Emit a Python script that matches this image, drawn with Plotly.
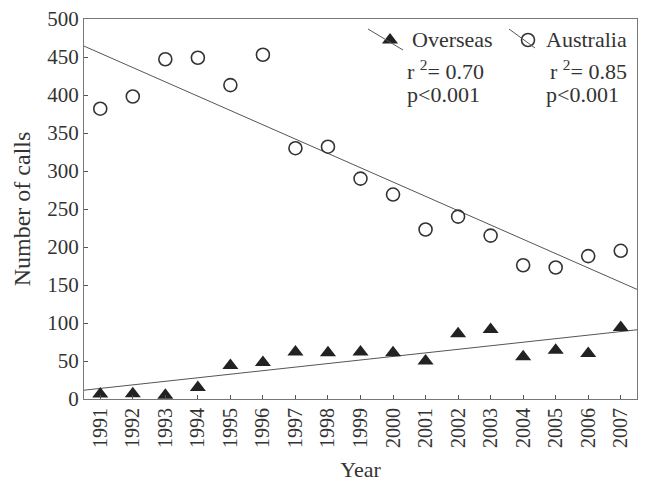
import numpy as np
import plotly.graph_objects as go

years = list(range(1991, 2008))
australia = [382, 398, 447, 449, 413, 453, 330, 332, 290, 269, 223, 240, 215, 176, 173, 188, 195]
overseas = [6.5, 7, 5, 15, 44, 48, 62, 61, 62, 61, 50, 86, 91.5, 55.5, 64, 60, 94]
ytick_vals = list(range(0, 501, 50))

x = np.array(years, dtype=float)
xr = np.array([1990.5, 2007.5])
ka, ba = np.polyfit(x, np.array(australia, dtype=float), 1)
ko, bo = np.polyfit(x, np.array(overseas, dtype=float), 1)

FONT = "Liberation Serif"
INK = "#333333"
LINE = "#555555"

fig = go.Figure()
fig.add_trace(go.Scatter(x=xr, y=ka * xr + ba, mode="lines",
                         line=dict(color=LINE, width=1), showlegend=False, cliponaxis=True))
fig.add_trace(go.Scatter(x=xr, y=ko * xr + bo, mode="lines",
                         line=dict(color=LINE, width=1), showlegend=False, cliponaxis=True))
fig.add_trace(go.Scatter(x=years, y=australia, mode="markers",
                         marker=dict(symbol="circle-open", size=13, color="#333333",
                                     line=dict(width=1.6, color="#333333")),
                         showlegend=False, cliponaxis=False))
fig.add_trace(go.Scatter(x=years, y=overseas, mode="markers",
                         marker=dict(symbol="triangle-up", size=14, color="#222222"),
                         showlegend=False, cliponaxis=False))

# legend glyphs on an overlay paper-like axis
L, R, T, B = 84, 637, 19, 399
def px(xp):
    return (xp - L) / (R - L)
def py(yp):
    return (B - yp) / (B - T)

fig.add_shape(type="line", xref="paper", yref="paper", x0=px(368), y0=py(29), x1=px(403), y1=py(50),
              line=dict(color=LINE, width=1))
fig.add_shape(type="line", xref="paper", yref="paper", x0=px(509), y0=py(29), x1=px(535), y1=py(48),
              line=dict(color=LINE, width=1))
fig.add_trace(go.Scatter(x=[px(390)], y=[py(40)], xaxis="x2", yaxis="y2", mode="markers",
                         marker=dict(symbol="triangle-up", size=14, color="#222222"),
                         showlegend=False, cliponaxis=False))
fig.add_trace(go.Scatter(x=[px(528)], y=[py(40)], xaxis="x2", yaxis="y2", mode="markers",
                         marker=dict(symbol="circle-open", size=13, color="#333333",
                                     line=dict(width=1.6, color="#333333")),
                         showlegend=False, cliponaxis=False))

tf = dict(family=FONT, size=22, color=INK)
ann = [
    dict(text="Overseas", x=px(410), y=py(40), xanchor="left"),
    dict(text="r <sup>2</sup>= 0.70", x=px(405), y=py(70), xanchor="left"),
    dict(text="p<0.001", x=px(405), y=py(95), xanchor="left"),
    dict(text="Australia", x=px(629), y=py(40), xanchor="right"),
    dict(text="r <sup>2</sup>= 0.85", x=px(629), y=py(70), xanchor="right"),
    dict(text="p<0.001", x=px(621), y=py(95), xanchor="right"),
]
for a in ann:
    fig.add_annotation(xref="paper", yref="paper", yanchor="middle", showarrow=False,
                       font=tf, **a)

fig.update_layout(
    width=648, height=485,
    margin=dict(l=L, r=648 - R, t=T, b=485 - B),
    paper_bgcolor="white", plot_bgcolor="white",
    font=dict(family=FONT, color=INK),
    xaxis=dict(range=[1990.5, 2007.5], tickvals=years, ticktext=[str(y) for y in years],
               tickangle=-90, ticks="inside", ticklen=4, tickcolor=LINE,
               showline=True, linecolor="#777777", linewidth=1.2, mirror=True,
               showgrid=False, zeroline=False, automargin=False,
               tickfont=dict(family=FONT, size=20, color=INK),
               title=dict(text="Year", font=dict(family=FONT, size=22, color=INK), standoff=14)),
    yaxis=dict(range=[0, 500], tickvals=ytick_vals, ticks="inside", ticklen=4, tickcolor=LINE,
               showline=True, linecolor="#777777", linewidth=1.2, mirror=True,
               showgrid=False, zeroline=False, automargin=False,
               tickfont=dict(family=FONT, size=21, color=INK),
               title=dict(text="Number of calls", font=dict(family=FONT, size=24, color=INK), standoff=9)),
    xaxis2=dict(range=[0, 1], overlaying="x", visible=False, fixedrange=True),
    yaxis2=dict(range=[0, 1], overlaying="y", visible=False, fixedrange=True),
)

fig.write_html("out.html")
